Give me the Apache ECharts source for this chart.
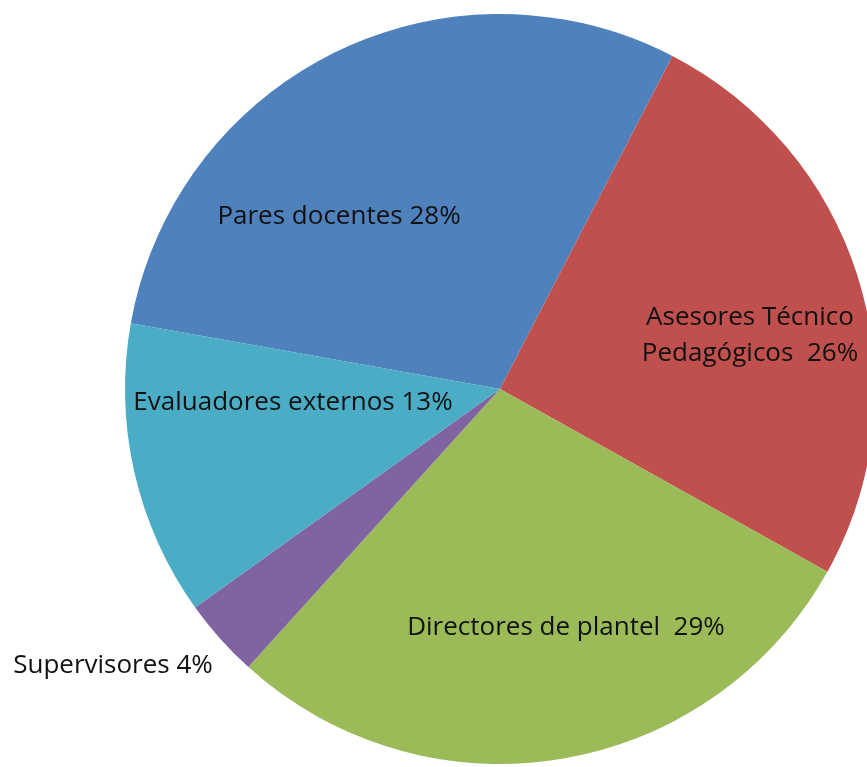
<!DOCTYPE html>
<html>
<head>
<meta charset="utf-8">
<script src="https://cdn.jsdelivr.net/npm/echarts@6/dist/echarts.min.js"></script>
<style>html,body{margin:0;padding:0;background:#fff;}#c{width:867px;height:767px;}</style>
</head>
<body>
<div id="c"></div>
<script>
// Categories in drawing order (clockwise)
const categories = ['Pares docentes', 'Asesores Técnico\nPedagógicos', 'Directores de plantel', 'Supervisores', 'Evaluadores externos'];
// Slice shares
const values = [29.8, 25.5, 28.6, 3.4, 12.7];
// Percent text as printed on the chart
const labelTexts = ['Pares docentes 28%', 'Asesores Técnico\nPedagógicos  26%', 'Directores de plantel  29%', 'Supervisores 4%', 'Evaluadores externos 13%'];
const colors = ['#4F81BD', '#C0504D', '#9BBB59', '#8064A2', '#4BACC6'];

// label anchor positions (layout only)
const labelPos = [[339, 217], [750, 336], [566, 628], [113, 666], [293, 403]];

const chart = echarts.init(document.getElementById('c'), null, {renderer: 'canvas'});
chart.setOption({
  animation: false,
  series: [{
    type: 'pie',
    center: [500, 389],
    radius: 375,
    startAngle: 169.9,
    clockwise: true,
    avoidLabelOverlap: false,
    data: categories.map((n, i) => ({
      name: n,
      value: values[i],
      itemStyle: {color: colors[i]}
    })),
    itemStyle: {borderWidth: 0},
    label: {
      show: true,
      position: 'inside',
      formatter: p => labelTexts[p.dataIndex],
      color: '#111',
      fontFamily: 'Open Sans',
      fontSize: 26,
      lineHeight: 36,
      align: 'center',
      verticalAlign: 'middle'
    },
    labelLine: {show: false},
    labelLayout: p => ({
      x: labelPos[p.dataIndex][0],
      y: labelPos[p.dataIndex][1],
      align: 'center',
      verticalAlign: 'middle'
    })
  }]
});
</script>
</body>
</html>
